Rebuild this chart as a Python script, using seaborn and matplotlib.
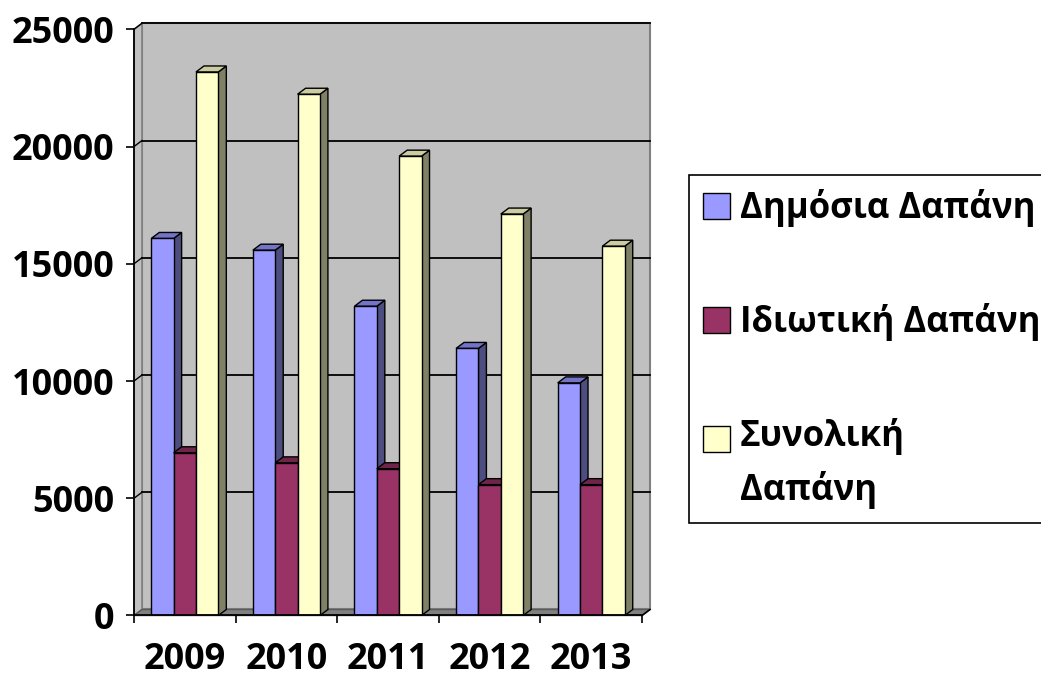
import numpy as np
import pandas as pd
import matplotlib
matplotlib.use('Agg')
import matplotlib.pyplot as plt
from matplotlib.patches import Polygon
from matplotlib.legend_handler import HandlerPatch
import seaborn as sns

# Δεδομένα (εκτίμηση από το διάγραμμα)
years = ['2009', '2010', '2011', '2012', '2013']
series = ['Δημόσια Δαπάνη', 'Ιδιωτική Δαπάνη', 'Συνολική Δαπάνη']
legend_labels = ['Δημόσια Δαπάνη', 'Ιδιωτική Δαπάνη', 'Συνολική\nΔαπάνη']
dimosia = [16080, 15580, 13190, 11390, 9920]
idiotiki = [6940, 6510, 6260, 5580, 5580]
synoliki = [23180, 22230, 19590, 17120, 15750]
yticks = [0, 5000, 10000, 15000, 20000, 25000]

front_colors = ['#9999FF', '#993366', '#FFFFCC']
side_colors = ['#4D4D80', '#4D1A33', '#808066']
top_colors = ['#7373C8', '#6E2549', '#CCCCA3']

plt.rcParams['font.family'] = ['Open Sans', 'DejaVu Sans']
plt.rcParams['font.weight'] = 'bold'


class FirstLineHandler(HandlerPatch):
    # ανεβάζει το τετράγωνο στο ύψος της πρώτης γραμμής
    def __init__(self, shift, **kw):
        super().__init__(**kw)
        self.shift = shift

    def create_artists(self, legend, orig_handle, xdescent, ydescent, width, height, fontsize, trans):
        return super().create_artists(legend, orig_handle, xdescent, ydescent - self.shift,
                                      width, height, fontsize, trans)


df = pd.DataFrame({
    'Έτος': years * 3,
    'Σειρά': np.repeat(series, len(years)),
    'Δαπάνη': dimosia + idiotiki + synoliki,
})

fig = plt.figure(figsize=(10.41, 6.79), dpi=100)
ax = fig.add_axes([0.12872, 0.09352, 0.48799, 0.86333])
ax.set_xlim(-0.5, 4.5)
ax.set_ylim(0, 25000)

# βάθος 3Δ σε μονάδες δεδομένων (~8px δεξιά, ~6px πάνω)
dx = 8 / 101.6
dy = 6 / (586.2 / 25000)

# πίσω τοίχος, αριστερός τοίχος, δάπεδο
ax.add_patch(Polygon([(-0.5 + dx, dy), (4.5 + dx, dy), (4.5 + dx, 25000 + dy), (-0.5 + dx, 25000 + dy)],
                     closed=True, fc='#C0C0C0', ec='#808080', lw=1.5, zorder=0, clip_on=False))
ax.add_patch(Polygon([(-0.5, 0), (-0.5 + dx, dy), (-0.5 + dx, 25000 + dy), (-0.5, 25000)],
                     closed=True, fc='#C0C0C0', ec='#808080', lw=1.2, zorder=0.2, clip_on=False))
ax.add_patch(Polygon([(-0.5, 0), (4.5, 0), (4.5 + dx, dy), (-0.5 + dx, dy)],
                     closed=True, fc='#808080', ec='#5A5A5A', lw=1.0, zorder=0.3, clip_on=False))
for v in yticks[1:]:
    ax.plot([-0.5 + dx, 4.5 + dx], [v + dy, v + dy], color='black', lw=1.3, zorder=0.5, clip_on=False)
    ax.plot([-0.5, -0.5 + dx], [v, v + dy], color='black', lw=1.0, zorder=0.5, clip_on=False)
ax.plot([4.5, 4.5 + dx], [0, dy], color='black', lw=1.2, zorder=0.6, clip_on=False)

sns.barplot(data=df, x='Έτος', y='Δαπάνη', hue='Σειρά', hue_order=series,
            palette=front_colors, saturation=1, width=0.66,
            edgecolor='black', linewidth=1.0, legend=False, ax=ax)

for i, cont in enumerate(ax.containers):
    for bar in cont.patches:
        bar.set_zorder(3 + 2 * i)
        x0 = bar.get_x()
        w = bar.get_width()
        h = bar.get_height()
        x1 = x0 + w
        side = Polygon([(x1, 0), (x1 + dx, dy), (x1 + dx, h + dy), (x1, h)], closed=True,
                       fc=side_colors[i], ec='black', lw=1.0, zorder=2 + 2 * i, clip_on=False)
        top = Polygon([(x0, h), (x0 + dx, h + dy), (x1 + dx, h + dy), (x1, h)], closed=True,
                      fc=top_colors[i], ec='black', lw=1.0, zorder=2 + 2 * i, clip_on=False)
        ax.add_patch(side)
        ax.add_patch(top)

ax.set_xlim(-0.5, 4.5)
ax.set_ylim(0, 25000)
ax.set_xlabel('')
ax.set_ylabel('')
ax.patch.set_visible(False)
for s in ['top', 'right']:
    ax.spines[s].set_visible(False)
for s in ['left', 'bottom']:
    ax.spines[s].set_color('black')
    ax.spines[s].set_linewidth(1.3)
    ax.spines[s].set_zorder(10)

ax.set_yticks(yticks)
ax.set_yticklabels([str(t) for t in yticks])
ax.tick_params(axis='y', direction='out', length=6, width=1.2, pad=8, labelsize=26)
ax.set_xticks(range(len(years)))
ax.set_xticklabels(years)
ax.set_xticks(np.arange(-0.5, len(years), 1), minor=True)
ax.tick_params(axis='x', which='major', length=0, pad=19, labelsize=26)
ax.tick_params(axis='x', which='minor', direction='out', length=6, width=1.2)

handles = [c.patches[0] for c in ax.containers]
leg = ax.legend(handles, legend_labels, loc='upper left',
                bbox_to_anchor=(689 / 1041, 1 - 175 / 679), bbox_transform=fig.transFigure,
                borderaxespad=0, borderpad=0.4, frameon=True, fancybox=False, framealpha=1,
                edgecolor='black', handlelength=0.78, handleheight=0.78, handletextpad=0.29,
                labelspacing=2.2, prop={'weight': 'bold', 'size': 25},
                handler_map={handles[2]: FirstLineHandler(shift=18.4)})
leg.get_frame().set_linewidth(1.2)
for t in leg.get_texts():
    t.set_linespacing(1.55)

plt.savefig('out.png', dpi=100)
